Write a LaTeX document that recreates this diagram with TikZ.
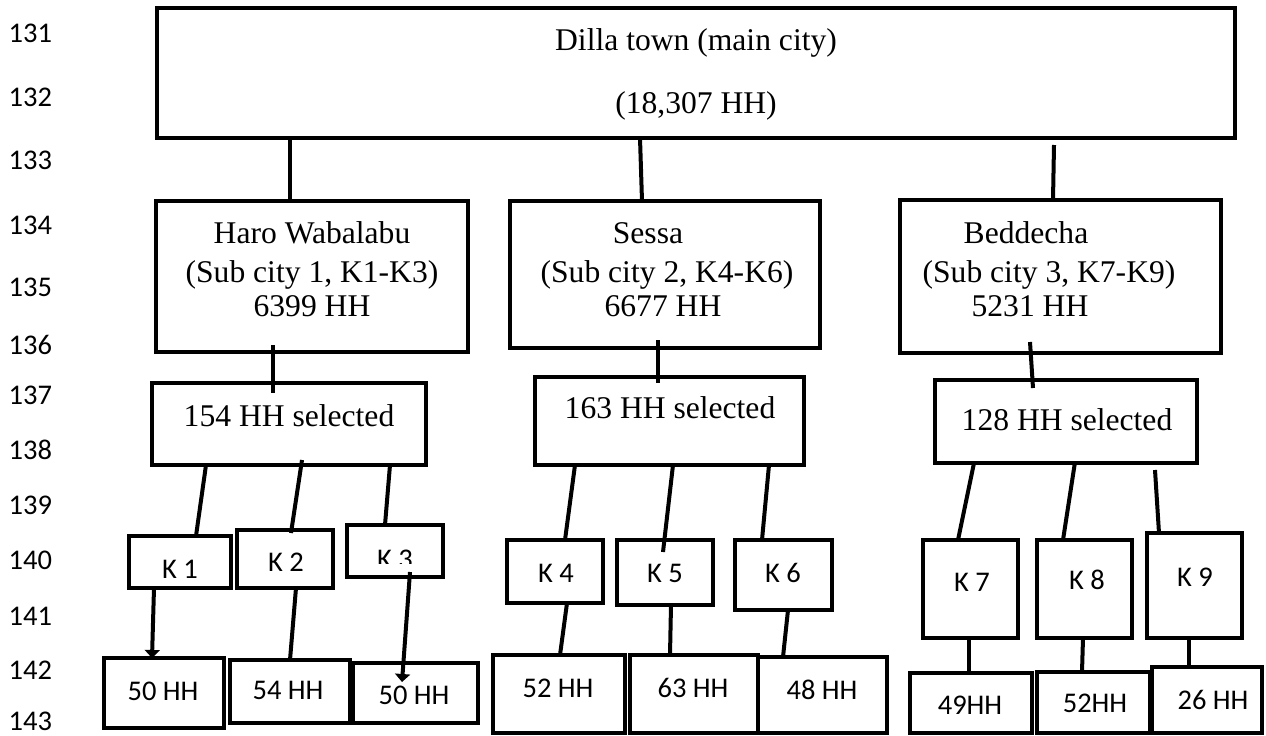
\documentclass[tikz,border=0pt]{standalone}
\usepackage{fontspec}
\setmainfont{Liberation Serif}
\newfontfamily\calibri{Carlito}
\usepackage{tikz}
\usetikzlibrary{positioning, arrows.meta}

\begin{document}
\begin{tikzpicture}[x=1pt, y=-1pt,
    every node/.style={inner sep=0pt, outer sep=0pt},
    box/.style={draw, line width=4pt, rectangle},
    link/.style={line width=4pt},
    serif/.style={font=\fontsize{31.6}{36}\selectfont, anchor=base},
    sans/.style={font=\calibri\fontsize{28.5}{34}\selectfont, anchor=base}]
    \useasboundingbox (0,0) rectangle (1266,736);

    % Line numbers in the margin
    \foreach \n/\y in {131/42,132/106,133/169,134/234,135/296,136/354,137/404,
                       138/459,139/514,140/569,141/625,142/679,143/730} {
        \node[sans, anchor=base east] (ln\n) at (52,\y) {\n};
    }

    % Main city
    \node[box, minimum width=1078pt, minimum height=130pt] (main) at (696,73) {};
    \node[serif] (maint1) at (696,50) {Dilla town (main city)};
    \node[serif] (maint2) at (696,113) {(18,307 HH)};

    % Sub cities
    \node[box, minimum width=312pt, minimum height=151pt] (haro) at (312,276.5) {};
    \node[box, minimum width=310pt, minimum height=147pt] (sessa) at (665,274.5) {};
    \node[box, minimum width=321pt, minimum height=153pt] (bedd) at (1060.5,276.5) {};
    \node[serif] at (312,243) {Haro Wabalabu};
    \node[serif] at (312,282) {(Sub city 1, K1-K3)};
    \node[serif] at (312,316) {6399 HH};
    \node[serif] at (648,243) {Sessa};
    \node[serif] at (667,282) {(Sub city 2, K4-K6)};
    \node[serif] at (663,316) {6677 HH};
    \node[serif] at (1026,243) {Beddecha};
    \node[serif] at (1049,282) {(Sub city 3, K7-K9)};
    \node[serif] at (1030,316) {5231 HH};

    % Selected households
    \node[box, minimum width=274pt, minimum height=82pt] (sel1) at (289,424) {};
    \node[box, minimum width=269pt, minimum height=88pt] (sel2) at (669.5,421) {};
    \node[box, minimum width=262pt, minimum height=83pt] (sel3) at (1066,421.5) {};
    \node[serif] at (289,426) {154 HH selected};
    \node[serif] at (670,418) {163 HH selected};
    \node[serif] at (1067,430) {128 HH selected};

    % Kebeles
    \foreach \k/\x/\y/\w/\h in {1/180/562/102/52, 2/285/559/96/58, 3/395/551/96/52,
                                4/555/571.5/96/63, 5/665/572.5/96/65, 6/783.5/575/97/70,
                                7/970.5/589/95/98, 8/1084.5/589/95/98, 9/1194.5/585.5/95/105} {
        \node[box, minimum width=\w pt, minimum height=\h pt] (k\k) at (\x,\y) {};
    }
    \foreach \k/\x/\y in {1/180/578, 2/286/571, 4/556/582, 5/665/582, 6/783/582,
                          7/972/591, 8/1087/589, 9/1195/586} {
        \node[sans] (kt\k) at (\x,\y) {K \k};
    }
    \begin{scope}
        \clip (347,525) rectangle (443,563);
        \node[sans] (kt3) at (395,568) {K 3};
    \end{scope}

    % Households per kebele
    \foreach \i/\x/\y/\w/\h in {1/164/693/120/70, 2/290/691.5/120/63, 3/415.5/693/125/60,
                                4/559/694/132/78, 5/694/694/128/78, 6/822.5/695/129/76,
                                7/971/703/122/60, 8/1093.5/702.5/113/61, 9/1207/700/110/66} {
        \node[box, minimum width=\w pt, minimum height=\h pt] (h\i) at (\x,\y) {};
    }
    \foreach \i/\x/\y/\t in {1/163/700/50 HH, 2/288/699/54 HH, 3/414/704/50 HH,
                             4/558/697/52 HH, 5/693/697/63 HH, 6/822/699/48 HH,
                             7/970/714/49HH, 8/1095/712/52HH, 9/1213/709/26 HH} {
        \node[sans] (ht\i) at (\x,\y) {\t};
    }

    % Main city to sub cities
    \draw[link] ([xshift=-406pt]main.south) -- ([xshift=-22pt]haro.north);
    \draw[link] ([xshift=-56pt]main.south) -- ([xshift=-23pt]sessa.north);
    \draw[link] ([xshift=358pt,yshift=-7pt]main.south) -- ([xshift=-7.5pt]bedd.north);

    % Sub cities to selected
    \draw[link] ([xshift=-39pt,yshift=7pt]haro.south) -- ([xshift=-16pt,yshift=-10pt]sel1.north);
    \draw[link] ([xshift=-7pt,yshift=8pt]sessa.south) -- ([xshift=-11.5pt,yshift=-6pt]sel2.north);
    \draw[link] ([xshift=-30.5pt,yshift=11pt]bedd.south) -- ([xshift=-33pt,yshift=-8pt]sel3.north);

    % Selected to kebeles
    \draw[link] ([xshift=-83pt]sel1.south) -- ([xshift=16pt]k1.north);
    \draw[link] ([xshift=13pt,yshift=5pt]sel1.south) -- ([xshift=6pt,yshift=-3pt]k2.north);
    \draw[link] ([xshift=101pt]sel1.south) -- ([xshift=-10pt]k3.north);
    \draw[link] ([xshift=-94.5pt]sel2.south) -- ([xshift=10pt]k4.north);
    \draw[link] ([xshift=3.5pt]sel2.south) -- ([xshift=-2pt,yshift=-12pt]k5.north);
    \draw[link] ([xshift=99.5pt]sel2.south) -- ([xshift=-21.5pt]k6.north);
    \draw[link] ([xshift=-92pt]sel3.south) -- ([xshift=-12.5pt]k7.north);
    \draw[link] ([xshift=9pt,yshift=1pt]sel3.south) -- ([xshift=-21.5pt]k8.north);
    \draw[link] ([xshift=89pt,yshift=-7pt]sel3.south) -- ([xshift=-35.5pt]k9.north);

    % Kebeles to households
    \draw[link, -{Triangle[length=8pt,width=15pt]}] ([xshift=-26pt]k1.south) -- ([xshift=-12pt]h1.north);
    \draw[link] ([xshift=11pt]k2.south) -- (h2.north);
    \draw[link, -{Triangle[length=8pt,width=15pt]}] ([xshift=15pt,yshift=5pt]k3.south) -- ([xshift=-13.5pt,yshift=-19pt]h3.north);
    \draw[link] ([xshift=12pt]k4.south) -- ([xshift=1pt]h4.north);
    \draw[link] ([xshift=6pt]k5.south) -- ([xshift=-24pt]h5.north);
    \draw[link] ([xshift=4.5pt]k6.south) -- ([xshift=-39.5pt]h6.north);
    \draw[link] ([xshift=-1.5pt]k7.south) -- ([xshift=-2pt]h7.north);
    \draw[link] ([xshift=-1.5pt]k8.south) -- ([xshift=-11.5pt]h8.north);
    \draw[link] ([xshift=-5.5pt]k9.south) -- ([xshift=-18pt]h9.north);
\end{tikzpicture}
\end{document}
